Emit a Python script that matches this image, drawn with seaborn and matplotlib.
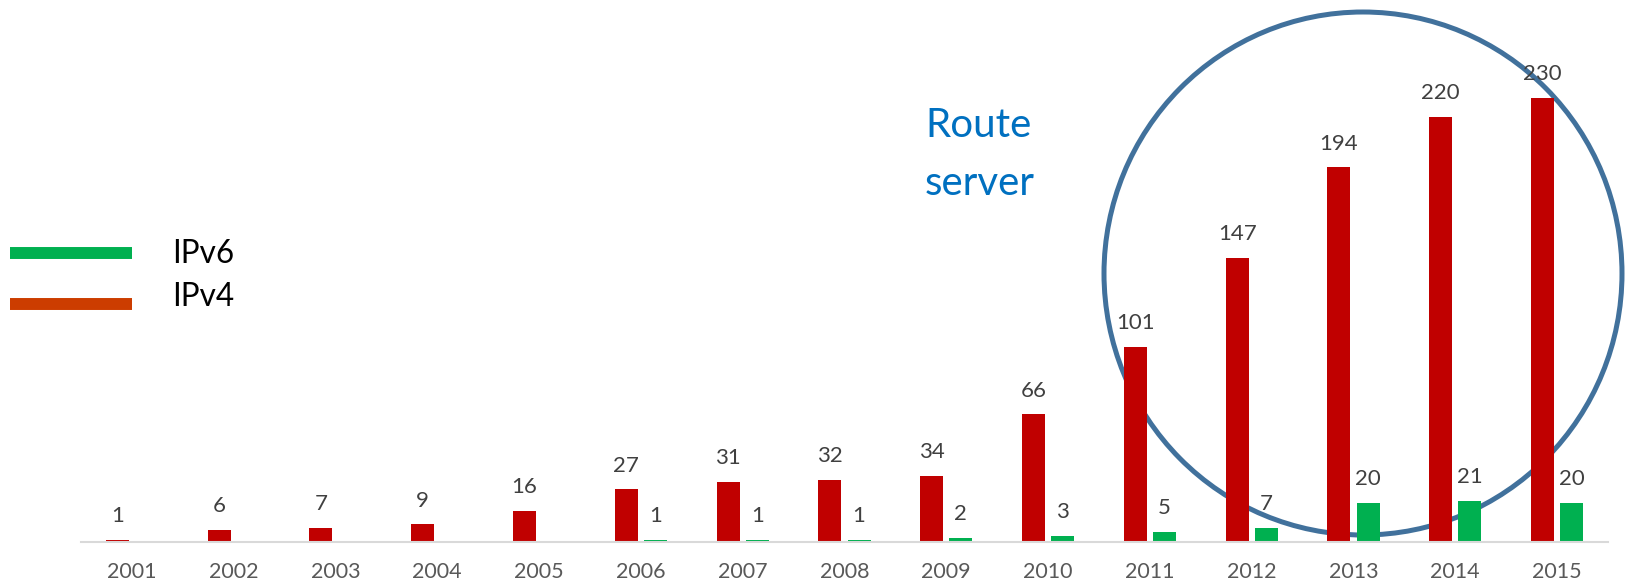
import numpy as np
import pandas as pd
import matplotlib
matplotlib.use("Agg")
import matplotlib.pyplot as plt
from matplotlib.patches import Ellipse
from matplotlib.lines import Line2D
import seaborn as sns

# ---- data ----
years = [str(y) for y in range(2001, 2016)]
ipv4 = [1, 6, 7, 9, 16, 27, 31, 32, 34, 66, 101, 147, 194, 220, 230]
ipv6 = [np.nan, np.nan, np.nan, np.nan, np.nan, 1, 1, 1, 2, 3, 5, 7, 20, 21, 20]
series_names = ["IPv4", "IPv6"]
legend_labels = ["IPv6", "IPv4"]
annotation = ["Route", "server"]

bar_colors = {"IPv4": "#c00000", "IPv6": "#00b050"}
legend_colors = ["#00b050", "#cc3d00"]

sns.set_theme(style="white")
plt.rcParams["font.family"] = ["Lato", "DejaVu Sans"]

df = pd.DataFrame({
    "year": years * 2,
    "count": ipv4 + ipv6,
    "protocol": ["IPv4"] * len(years) + ["IPv6"] * len(years),
})

W, H = 1625, 584
fig = plt.figure(figsize=(W / 100, H / 100), dpi=100)
ax = fig.add_axes([81 / W, 42.5 / H, (1608 - 81) / W, (H - 42.5 - 1) / H])

sns.barplot(data=df, x="year", y="count", hue="protocol", order=years,
            hue_order=series_names, palette=bar_colors, width=0.572, gap=0.21,
            legend=False, ax=ax, saturation=1, linewidth=0, zorder=2)

ax.set_xlim(-0.5, 14.5)
ax.set_ylim(0, 280)

# value labels
for container in ax.containers:
    for patch in container:
        h = patch.get_height()
        if h is None or np.isnan(h):
            continue
        ax.annotate(f"{int(round(h))}", (patch.get_x() + patch.get_width() / 2, h),
                    xytext=(0, 12.6), textcoords="offset points",
                    ha="center", va="baseline", fontsize=16, color="#404040",
                    zorder=5)

# axes styling
for s in ["top", "right", "left"]:
    ax.spines[s].set_visible(False)
ax.spines["bottom"].set_color("#d9d9d9")
ax.spines["bottom"].set_linewidth(1.5)
ax.set_yticks([])
ax.set_xlabel("")
ax.set_ylabel("")
ax.tick_params(axis="x", length=0, pad=15, labelsize=15.5, labelcolor="#595959")
ax.grid(False)

# highlight circle
circ = Ellipse((1363 / W, 1 - 273.5 / H), 518 / W, 523 / H, transform=fig.transFigure,
               fill=False, edgecolor="#41719c", linewidth=3.6, clip_on=False, zorder=1)
ax.add_patch(circ)

# annotation text
fig.text(925 / W, 1 - 136.7 / H, annotation[0], fontsize=29, color="#0070c0",
         ha="left", va="baseline")
fig.text(925 / W, 1 - 195 / H, annotation[1], fontsize=29, color="#0070c0",
         ha="left", va="baseline")

# manual legend
for lab, col, ly, ty in zip(legend_labels, legend_colors, [253, 304], [263.3, 306]):
    fig.add_artist(Line2D([10 / W, 131.7 / W], [1 - ly / H, 1 - ly / H],
                          transform=fig.transFigure, color=col, linewidth=8.6,
                          solid_capstyle="butt"))
    fig.text(171.7 / W, 1 - ty / H, lab, fontsize=22.7, color="#000000",
             ha="left", va="baseline")

fig.savefig("out.png", dpi=100, facecolor="white")
